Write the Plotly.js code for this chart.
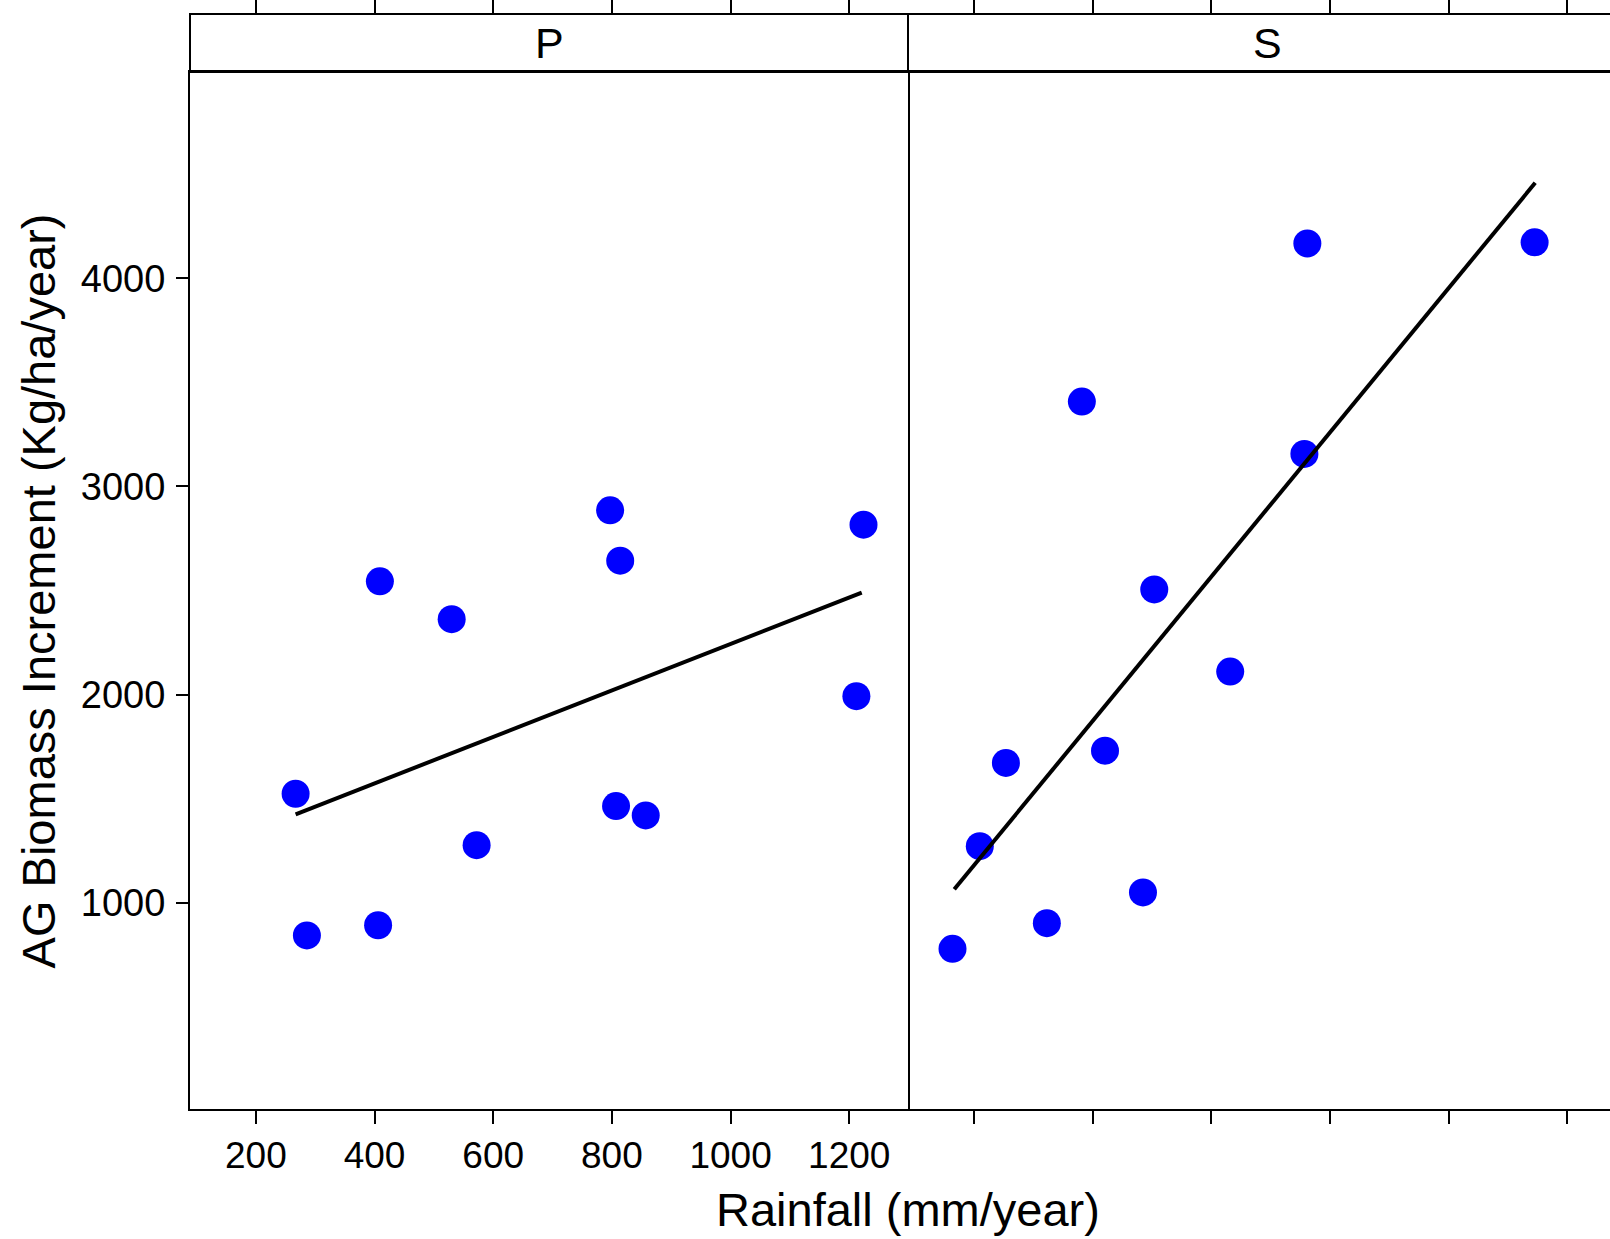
<!DOCTYPE html>
<html>
<head>
<meta charset="utf-8">
<script src="https://cdn.plot.ly/plotly-3.0.1.min.js"></script>
<style>
html, body { margin: 0; padding: 0; overflow: hidden; background: #fff; }
#chart { width: 1640px; height: 1239px; }
</style>
</head>
<body>
<div id="chart"></div>
<script>
// Data
const panels = ["P", "S"];
const rainP = [267, 286, 409, 406, 530, 572, 797, 814, 807, 857, 1224, 1212];
const biomassP = [1523, 842, 2544, 891, 2362, 1276, 2885, 2643, 1464, 1419, 2816, 1992];
const rainS = [164, 210, 254, 323, 382, 421, 485, 504, 632, 757, 762, 1145];
const biomassS = [778, 1271, 1671, 901, 3408, 1730, 1049, 2505, 2110, 3156, 4168, 4173];
const fitRainP = [267, 1221];
const fitBiomassP = [1424, 2490];
const fitRainS = [167, 1146];
const fitBiomassS = [1064, 4459];
const xTicks = [200, 400, 600, 800, 1000, 1200];
const yTicks = [1000, 2000, 3000, 4000];
const xTitle = "Rainfall (mm/year)";
const yTitle = "AG Biomass Increment (Kg/ha/year)";

const FONT = "Liberation Sans, Arial, Helvetica, sans-serif";
const xRange = [89, 1299];
const yRange = [8, 4992];
const panelTop = 0.9471;

const pointStyle = { color: "#0000FF", size: 28, symbol: "circle", line: { width: 0 } };
const lineStyle = { color: "#000000", width: 4 };

const traces = [
  { x: rainP, y: biomassP, xaxis: "x", yaxis: "y", type: "scatter", mode: "markers", marker: pointStyle, cliponaxis: false },
  { x: fitRainP, y: fitBiomassP, xaxis: "x", yaxis: "y", type: "scatter", mode: "lines", line: lineStyle },
  { x: rainS, y: biomassS, xaxis: "x2", yaxis: "y2", type: "scatter", mode: "markers", marker: pointStyle, cliponaxis: false },
  { x: fitRainS, y: fitBiomassS, xaxis: "x2", yaxis: "y2", type: "scatter", mode: "lines", line: lineStyle },
  { x: [], y: [], xaxis: "x3", yaxis: "y", type: "scatter", mode: "markers" },
  { x: [], y: [], xaxis: "x4", yaxis: "y2", type: "scatter", mode: "markers" }
];

const baseX = {
  range: xRange, tickmode: "array", tickvals: xTicks, ticktext: xTicks.map(String),
  showgrid: false, zeroline: false, showline: true, mirror: true,
  linecolor: "#000", linewidth: 2, ticks: "outside", ticklen: 13, tickwidth: 2, tickcolor: "#000",
  tickfont: { family: FONT, size: 37, color: "#000" }, fixedrange: true
};
const baseY = {
  range: yRange, tickmode: "array", tickvals: yTicks, ticktext: yTicks.map(String),
  showgrid: false, zeroline: false,
  linecolor: "#000", linewidth: 2, tickcolor: "#000", tickwidth: 2, ticklen: 12,
  tickfont: { family: FONT, size: 38, color: "#000" }, fixedrange: true,
  domain: [0, panelTop]
};
const topX = {
  range: xRange, tickmode: "array", tickvals: xTicks, showticklabels: false,
  showgrid: false, zeroline: false, showline: false,
  ticks: "outside", ticklen: 14, tickwidth: 2, tickcolor: "#000",
  side: "top", anchor: "free", position: 1, fixedrange: true
};

const layout = {
  width: 1640, height: 1239,
  margin: { l: 190, r: 14, t: 14, b: 130, pad: 0 },
  paper_bgcolor: "#fff", plot_bgcolor: "#fff",
  showlegend: false,
  font: { family: FONT, color: "#000" },
  xaxis: Object.assign({}, baseX, { domain: [0, 0.5], anchor: "y" }),
  xaxis2: Object.assign({}, baseX, { domain: [0.5, 1], anchor: "y2", showticklabels: false }),
  xaxis3: Object.assign({}, topX, { overlaying: "x" }),
  xaxis4: Object.assign({}, topX, { overlaying: "x2" }),
  yaxis: Object.assign({}, baseY, { anchor: "x", ticks: "outside", showline: true, mirror: true, ticklabelstandoff: 3 }),
  yaxis2: Object.assign({}, baseY, { anchor: "x2", ticks: "", showticklabels: false, showline: false }),
  shapes: [
    { type: "rect", xref: "paper", yref: "paper", x0: 0, x1: 0.5, y0: panelTop, y1: 1,
      line: { color: "#000", width: 2 }, fillcolor: "rgba(0,0,0,0)", layer: "above" },
    { type: "rect", xref: "paper", yref: "paper", x0: 0.5, x1: 1, y0: panelTop, y1: 1,
      line: { color: "#000", width: 2 }, fillcolor: "rgba(0,0,0,0)", layer: "above" }
  ],
  annotations: [
    { text: panels[0], xref: "paper", yref: "paper", x: 0.25, y: (panelTop + 1) / 2,
      xanchor: "center", yanchor: "middle", showarrow: false, font: { family: FONT, size: 43, color: "#000" } },
    { text: panels[1], xref: "paper", yref: "paper", x: 0.75, y: (panelTop + 1) / 2,
      xanchor: "center", yanchor: "middle", showarrow: false, font: { family: FONT, size: 43, color: "#000" } },
    { text: xTitle, xref: "paper", yref: "paper", x: 0.5, y: -0.0922,
      xanchor: "center", yanchor: "middle", showarrow: false, font: { family: FONT, size: 47, color: "#000" } },
    { text: yTitle, xref: "paper", yref: "paper", x: -0.1052, y: panelTop / 2, textangle: -90,
      xanchor: "center", yanchor: "middle", showarrow: false, font: { family: FONT, size: 47, color: "#000" } }
  ]
};

Plotly.newPlot("chart", traces, layout, { displayModeBar: false, staticPlot: true });
</script>
</body>
</html>
